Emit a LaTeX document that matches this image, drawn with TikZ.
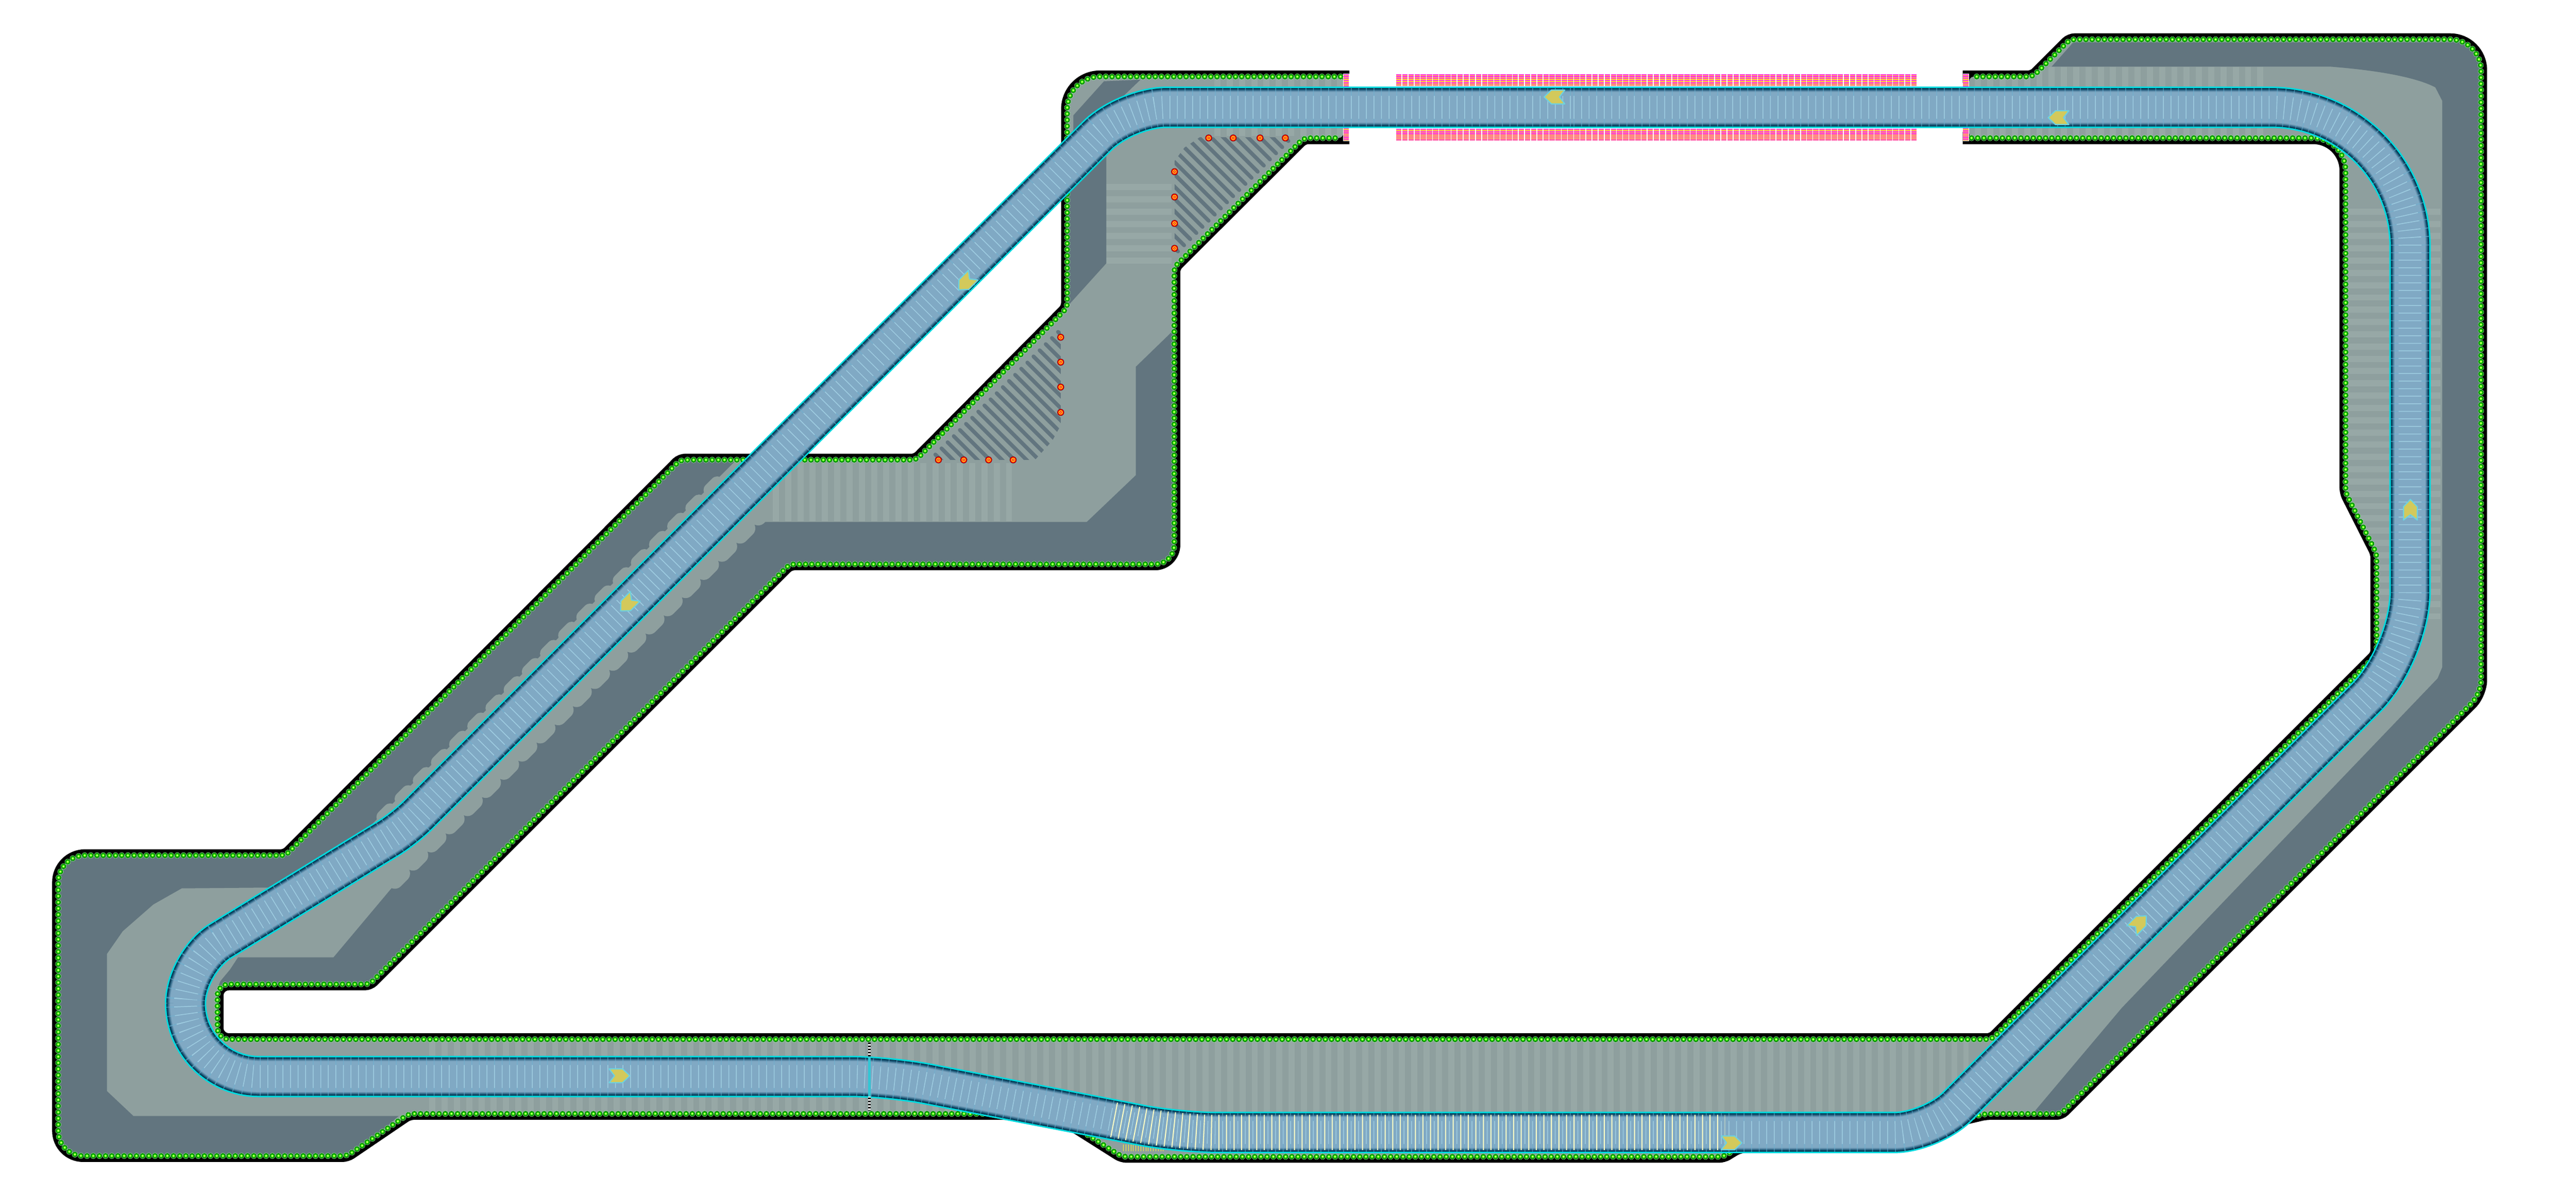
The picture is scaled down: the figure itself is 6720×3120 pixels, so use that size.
\documentclass[tikz,border=0pt]{standalone}
\definecolor{lightg}{HTML}{8E9F9E}
\definecolor{stripeg}{HTML}{97A8A6}
\definecolor{darkg}{HTML}{62757F}
\definecolor{cyanE}{HTML}{00DADF}
\definecolor{tA}{HTML}{03354E}
\definecolor{tB}{HTML}{104C6A}
\definecolor{tC}{HTML}{2B6282}
\definecolor{tD}{HTML}{4F809E}
\definecolor{tE}{HTML}{6B97B4}
\definecolor{tF}{HTML}{80A9C4}
\definecolor{tick}{HTML}{6DB2D2}
\definecolor{tickB}{HTML}{A8D2E4}
\definecolor{yelT}{HTML}{FFFFC4}
\definecolor{arrF}{HTML}{D3C95B}
\definecolor{arrD}{HTML}{6CD2E0}
\definecolor{barM}{HTML}{FF33EE}
\definecolor{barY}{HTML}{FFE41A}
\tikzset{
  rc/.style={rounded corners=#1cm},
  blackline/.style={draw=black,line width=0.32cm,line join=miter},
  dotlayer/.style={line cap=round,dash pattern=on 0.001cm off 0.16cm,line width=#1},
  stripeband/.style={draw=stripeg,dash pattern=on 0.16cm off 0.16cm},
  hatchline/.style={draw=darkg,line width=0.1cm,line cap=round},
  bumpline/.style={draw=lightg,line cap=round,dash pattern=on 0.25cm off 0.42cm},
  chevron/.style={fill=arrF,draw=arrD,line width=0.03cm,line join=round},
  tickline/.style={dash pattern=on 0.02cm off 0.177cm}
}
% outer border between the two ends of the gap
\def\midA{[rc=.85] -- (2784,200) [rc=.12] -- (2784,803) -- (2390,1200) -- (1775,1200) -- (745,2232)
  [rc=.7] -- (152,2232) [rc=.65] -- (152,3016) [rc=.12] -- (905,3016) -- (1067,2906) -- (2750,2906)
  -- (2927,3018) -- (4496,3018) -- (4535,2994) -- (4950,2960) -- (5180,2906) -- (5376,2906)
  [rc=.35] -- (6472,1810) [rc=.8] -- (6472,103) [rc=.12] -- (5400,103) -- (5303,200)}
% inner border
\def\midB{[rc=.85] -- (6119,360) [rc=.12] -- (6119,1285) -- (6200,1445) -- (6200,1708) -- (5196,2712)
  [rc=.3] -- (567,2712) [rc=.3] -- (567,2568) [rc=.12] -- (964,2568) -- (2060,1472)
  [rc=.5] -- (3063,1472) [rc=.12] -- (3063,697) -- (3401,360)}
% track centre line
\def\trk{(4000,280) [rc=3.62] -- (6287,280) [rc=1.6] -- (6287,1706) [rc=.96] -- (5038,2955)
  [rc=1] -- (3075,2955) [rc=1] -- (2319,2809) [rc=1.91] -- (484,2809) [rc=1.07] -- (484,2511)
  [rc=.5] -- (1055,2162) [rc=1.05] -- (2937,280) -- cycle}
\newcommand{\chev}[3]{\begin{scope}[shift={(#1,#2)},rotate=#3]
  \path[chevron] (27,0) -- (8,18) -- (-27,18) -- (-13,0) -- (-27,-18) -- (8,-18) -- cycle;
\end{scope}}
\newcommand{\target}[2]{%
  \fill[black!30!red!60!black] (#1,#2) circle (0.09cm);
  \fill[red!95!black] (#1,#2) circle (0.08cm);
  \fill[yellow!90!white] (#1,#2) circle (0.055cm);
  \fill[red!90!orange] (#1,#2) circle (0.035cm);
  \fill[yellow!40!white] (#1,#2) circle (0.015cm);}
\newcommand{\pinkbar}[3]{%
  \draw[barY,line width=0.14cm] ({#1},#2) -- ({#1},#3);
  \draw[barM,line width=0.14cm,dash pattern=on 0.03cm off 0.02cm] ({#1},#2) -- ({#1},#3);}
\begin{document}
\begin{tikzpicture}[x=0.01cm,y=-0.01cm]
\useasboundingbox (0,0) rectangle (6720,3120);
% black borders
\draw[blackline] (3520,200) \midA -- (5120,200);
\draw[blackline] (5120,360) \midB -- (3520,360);
% ground
\fill[lightg] (3504,200) \midA -- (5137,200) -- (5137,360) \midB -- (3504,360) -- cycle;
\begin{scope}
  \clip (3504,200) \midA -- (5137,200) -- (5137,360) \midB -- (3504,360) -- cycle;
  % lighter rumble stripes
  \draw[stripeband,line width=1.9cm] (1120,2810) -- (5136,2810);
  \draw[stripeband,line width=1.9cm] (5120,270) -- (5904,270);
  \draw[stripeband,line width=1.5cm] (3168,280) -- (3504,280);
  \draw[stripeband,line width=1.7cm] (2971,480) -- (2971,688);
  \draw[stripeband,line width=1.52cm] (2016,1284) -- (2640,1284);
  \draw[stripeband,line width=2.4cm] (6247,544) -- (6247,1616);
  % gravel
  \fill[darkg] (5409,110) -- (5352,174) -- (6081,174) .. controls (6220,185) and (6310,205) .. (6353,228)
     -- (6371,263) -- (6371,1741) -- (6359,1770) -- (5535,2630) -- (5299,2910) -- (5400,2910)
     -- (6480,1810) -- (6480,110) -- cycle;
  \fill[darkg] (2975,208) -- (2880,212) -- (2800,301) -- (2800,400) -- (2900,280) -- cycle;
  \fill[darkg] (2886,300) -- (2886,687) -- (2784,800) -- (2784,400) -- cycle;
  \fill[darkg] (1916,1205) -- (1775,1190) -- (745,2222) -- (140,2222) -- (140,3030) -- (905,3030)
     -- (1040,2912) -- (348,2912) -- (279,2847) -- (279,2489) -- (320,2430) -- (400,2360) -- (474,2318)
     -- (700,2316) -- (969,2152) -- cycle;
  \fill[darkg] (1990,1347) -- (1984,1362) -- (2835,1362) -- (2963,1240) -- (2963,957) -- (3063,860)
     -- (3080,1480) -- (2060,1480) -- (964,2580) -- (567,2580) -- (575,2560) -- (600,2530) -- (621,2498)
     -- (870,2498) -- (1032,2305) -- cycle;
  % scalloped edge next to the diagonal
  \draw[bumpline,line width=0.36cm] (1000,2132) -- (1900,1232);
  \draw[bumpline,line width=0.44cm] (1030,2297) -- (1985,1342);
  % hatching
  \begin{scope}
    \clip (3130,358) -- (3420,358) -- (3420,700) -- (3064,700) -- (3064,420) -- (3090,385) -- cycle;
    \foreach \k in {0,...,19} \draw[hatchline] ({3361-16*\k},{368+16*\k}) -- ++(-400,-400);
  \end{scope}
  \begin{scope}
    \clip (2400,1200) -- (2700,1200) -- (2745,1150) -- (2767,1110) -- (2767,840) -- (2400,840) -- cycle;
    \foreach \k in {0,...,20} \draw[hatchline] ({2440+16*\k},{1186-16*\k}) -- ++(400,400);
  \end{scope}
  % faint yellow ticks under the track
  \draw[yellow!80!white,line width=0.17cm,dash pattern=on 0.01cm off 0.055cm] (2930,2995) -- (3040,2995);
\end{scope}
% green border lights
\foreach \w/\c in {0.155cm/green!45!white,0.14cm/black!70!green,0.12cm/green!60!black,0.08cm/green!75!yellow,0.04cm/yellow!35!white}{
  \draw[\c,dotlayer=\w] (3497,200) \midA -- (5143,200);
  \draw[\c,dotlayer=\w] (5143,360) \midB -- (3497,360);
}
% red targets
\foreach \x in {3153,3217,3287,3353} {\target{\x}{360}}
\foreach \y in {448,514,583,648} {\target{3064}{\y}}
\foreach \x in {2448,2514,2579,2643} {\target{\x}{1200}}
\foreach \y in {880,945,1010,1076} {\target{2767}{\y}}
% pink bars
\fill[white] (3504,192) rectangle (3521,368);
\fill[white] (5120,192) rectangle (5137,368);
\pinkbar{3512}{193}{367}
\pinkbar{5128}{193}{367}
\foreach \k in {0,...,84}{
  \pinkbar{3649+16*\k}{193}{224}
  \pinkbar{3649+16*\k}{336}{367}
}
% track
\draw[cyanE,line width=1.08cm] \trk;
\draw[tA,line width=1.00cm] \trk;
\draw[tB,line width=0.96cm] \trk;
\draw[tC,line width=0.92cm] \trk;
\draw[tD,line width=0.88cm] \trk;
\draw[tE,line width=0.84cm] \trk;
\draw[tF,line width=0.80cm] \trk;
\draw[tick,opacity=.6,line width=1.0cm,tickline] \trk;
\draw[tickB,opacity=.85,line width=0.6cm,tickline] \trk;
% yellow ticks of the marked stretch
\draw[yelT,line width=0.92cm,dash pattern=on 0.027cm off 0.170cm] (2905,2922) [rc=1] -- (3075,2955) -- (4500,2955);
% start line
\draw[white,line width=0.08cm] (2268,2720) -- (2268,2898);
\draw[black,line width=0.08cm,dash pattern=on 0.04cm off 0.04cm] (2268,2720) -- (2268,2898);
\draw[cyanE!60!tF,line width=0.08cm] (2268,2756) -- (2268,2862);
% direction chevrons
\chev{4055}{253}{180}
\chev{5370}{307}{180}
\chev{6288}{1330}{90}
\chev{5580}{2409}{45}
\chev{4517}{2982}{0}
\chev{1616}{2807}{0}
\chev{1638}{1575}{225}
\chev{2520}{737}{225}
\end{tikzpicture}
\end{document}
